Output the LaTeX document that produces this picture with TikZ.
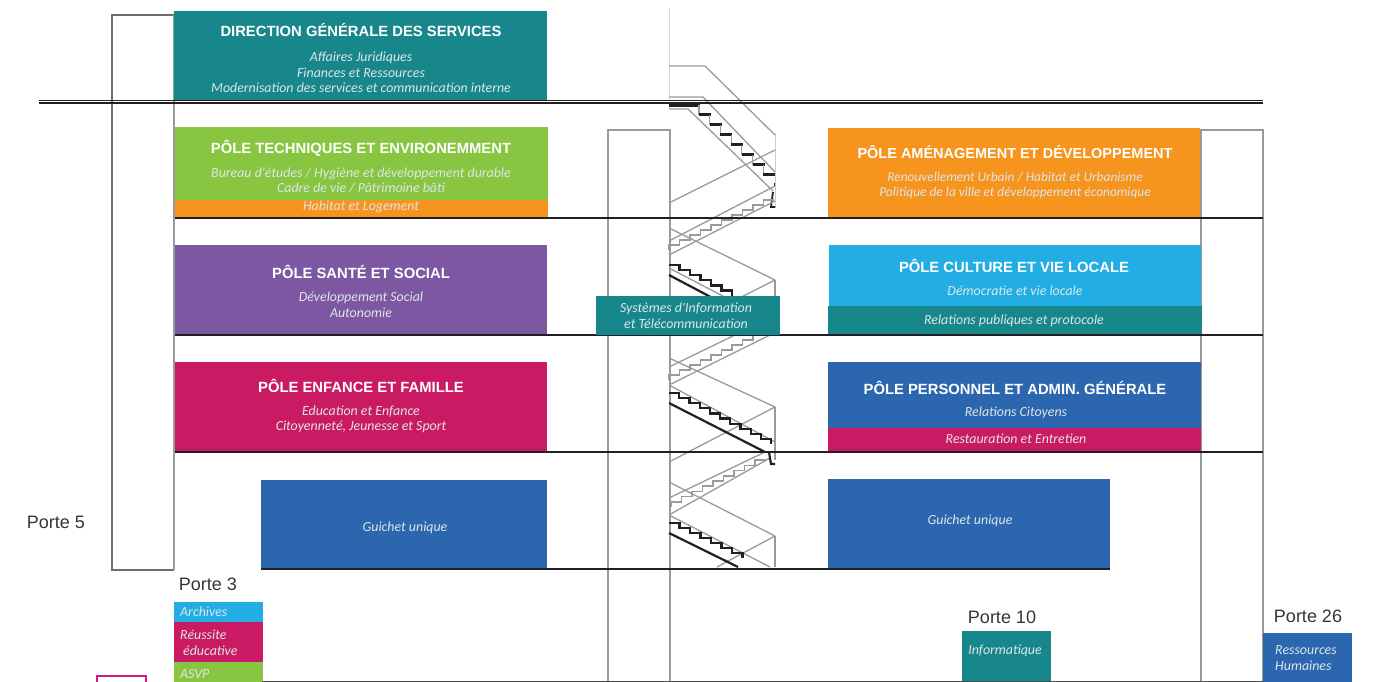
\documentclass[tikz,border=0pt]{standalone}
\usepackage{fontspec}
\setmainfont{Liberation Sans}
\newfontfamily\itfont{Carlito}
\definecolor{cteal}{HTML}{17878C}
\definecolor{cgreen}{HTML}{88C540}
\definecolor{corange}{HTML}{F7941E}
\definecolor{cpurple}{HTML}{7E57A2}
\definecolor{cpink}{HTML}{C91A63}
\definecolor{cblue}{HTML}{2B66AE}
\definecolor{ccyan}{HTML}{22AEE5}
\definecolor{cdark}{HTML}{231F20}
\definecolor{cgrey}{HTML}{9A9A9A}
\definecolor{csoft}{HTML}{DDE6E8}
\tikzset{
 x=1pt,y=-1pt,
 boxshape/.style={draw=none,inner sep=0pt,outer sep=0pt,anchor=north west},
 title/.style={text=white,font=\fontsize{14.8}{17}\selectfont\bfseries,inner sep=0pt},
 sub/.style={text=csoft,font=\fontsize{13.9}{15.5}\selectfont\itfont\itshape,inner sep=0pt,align=center},
 tag/.style={text=cdark!90,font=\fontsize{18}{20}\selectfont,inner sep=0pt},
 floorline/.style={draw=cdark,line width=2.9pt},
 door/.style={draw=cgrey,line width=1.8pt},
 doorfine/.style={draw=cdark!65,line width=1.2pt},
 stairg/.style={draw=cgrey,line width=1.3pt},
 stairb/.style={draw=cdark,line width=2.2pt},
 stepsg/.style={draw=cgrey,line width=1.7pt},
}
\newcommand{\bx}[6]{\node[boxshape,fill=#2,minimum width=#5-#3,minimum height=#6-#4] (#1) at (#3,#4) {};}
\newcommand{\teeth}[6]{\draw[#1] (#2,#3) \foreach \k in {1,...,#6} { -- ++(#4,0) -- ++(0,#5) };}
\newcommand{\upteeth}[6]{\draw[#1] (#2,#3) \foreach \k in {1,...,#6} { -- ++(0,-#5) -- ++(#4,0) };}
\begin{document}
\begin{tikzpicture}
\useasboundingbox (0,0) rectangle (1374,682);
\fill[white] (0,0) rectangle (1374,682);

% doors
\draw[doorfine] (174,570) -- (112,570) -- (112,15) -- (174,15);
\draw[door] (608,682) -- (608,130) -- (670,130) -- (670,682);
\draw[door] (1263,682) -- (1263,130) -- (1201,130) -- (1201,682);
\draw[draw=cgrey,line width=1.2pt] (174,15) -- (174,570);
\draw[draw=gray!30,line width=.7pt] (669.5,8) -- (669.5,100);

% staircase, top flight
\draw[stairg] (669,66) -- (705,66) -- (775,135);
\draw[stairg] (669,97) -- (703,97) -- (775,172);
\draw[stairg] (669,109) -- (688,109) -- (773,191);
\draw[draw=gray!40,line width=1pt] (775,133) -- (775,208);
\draw[draw=cdark,line width=3.4pt] (669,105) -- (700,105);
\foreach \i in {0,...,6}{
  \draw[draw=cgrey,line width=1.2pt] ({699+10.7*\i},{105+10*\i}) -- ({699+10.7*\i},{115+10*\i});
  \draw[draw=cdark,line width=3pt] ({699+10.7*\i},{115+10*\i}) -- ({711+10.7*\i},{115+10*\i});
}
\draw[draw=cdark,line width=3pt] (774,185) -- (775,185);
\draw[stairb,line width=1.8pt] (773,192) -- (771,207) -- (775,207);
% up flight 1
\draw[stairg] (669,203) -- (775,150);
\draw[stairg] (669,241) -- (775,186);
\draw[stairg] (669,255) -- (775,201);
\upteeth{stepsg}{669}{250}{10.5}{5}{10}
% down flight 1
\draw[stairg] (669,228) -- (775,280);
\draw[stairg] (669,268) -- (765,318);
\draw[stairg] (775,280) -- (775,334);
\draw[stairg] (775,280) -- (690,323);
\teeth{stairb}{669}{265}{10.5}{5.1}{6}
\draw[stairb] (669,275) -- (722,303);
% up flight 2
\draw[stairg] (669,367) -- (735,335);
\draw[stairg] (669,385) -- (770,335);
\upteeth{stepsg}{669}{380}{10.5}{5}{9}
% down flight 2
\draw[stairg] (669,358) -- (775,407);
\draw[stairg] (669,385) -- (775,442);
\draw[stairg] (775,407) -- (775,460);
\draw[stairg] (775,407) -- (669,462);
\teeth{stairb}{669}{393}{10.2}{5.1}{10}
\draw[stairb] (669,403) -- (765,452);
% up flight 3
\draw[stairg] (669,498) -- (763,453);
\draw[stairg] (669,515) -- (770,458);
\upteeth{stepsg}{671}{507}{10.5}{5.2}{9}
\draw[stairb] (769,452) -- (771,464) -- (775,464);
% down flight 3
\draw[stairg] (669,482) -- (775,536);
\draw[stairg] (669,515) -- (770,567);
\draw[stairg] (775,536) -- (775,567);
\draw[stairg] (775,536) -- (717,567);
\teeth{stairb}{669}{523}{10.5}{5}{7}
\draw[stairb] (669,533) -- (738,567);

% boxes
\bx{dgs}{cteal}{174}{11}{547}{101}
\bx{tech}{cgreen}{175}{127}{548}{200}
\bx{hab}{corange}{175}{200}{548}{218}
\bx{sante}{cpurple}{175}{245}{547}{335}
\bx{enf}{cpink}{175}{362}{547}{452}
\bx{gu}{cblue}{261}{480}{547}{569}
\bx{amen}{corange}{828}{128}{1200}{218}
\bx{cult}{ccyan}{829}{245}{1201}{306}
\bx{rel}{cteal}{828}{306}{1202}{334}
\bx{pers}{cblue}{828}{362}{1201}{428}
\bx{rest}{cpink}{828}{428}{1201}{452}
\bx{gd}{cblue}{828}{479}{1110}{569}
\bx{arch}{ccyan}{174}{602}{263}{622}
\bx{reu}{cpink}{174}{622}{263}{662}
\bx{asvp}{cgreen}{174}{662}{263}{682}
\bx{info}{cteal}{962}{631}{1051}{682}
\bx{rh}{cblue}{1263}{633}{1352}{682}

% floors
\draw[floorline,line width=1.7pt] (39,100.6) -- (1263,100.6);
\draw[floorline,line width=1.7pt] (39,103.2) -- (1263,103.2);
\draw[floorline] (175,218) -- (1263,218);
\draw[floorline] (175,335) -- (1263,335);
\draw[floorline] (175,452) -- (1263,452);
\draw[floorline] (261,569) -- (1110,569);
\draw[draw=cdark!80,line width=1.3pt] (262,681.5) -- (1263,681.5);
\draw[draw=magenta!90!black,line width=2.8pt] (97,682) -- (97,676) -- (146,676) -- (146,682);

\bx{si}{cteal}{596}{296}{780}{335}

% texts
\node[title] (t1) at (361,30) {DIRECTION GÉNÉRALE DES SERVICES};
\node[sub] (s1) at (361,72.5) {Affaires Juridiques\\Finances et Ressources\\Modernisation des services et communication interne};
\node[title] (t2) at (361,148.5) {PÔLE TECHNIQUES ET ENVIRONEMMENT};
\node[sub] (s2) at (361,180.5) {Bureau d'études / Hygiène et développement durable\\Cadre de vie / Pâtrimoine bâti};
\node[sub] (s2b) at (361,207) {Habitat et Logement};
\node[title] (t3) at (361,272) {PÔLE SANTÉ ET SOCIAL};
\node[sub] (s3) at (361,304.5) {Développement Social\\Autonomie};
\node[title] (t4) at (361,386) {PÔLE ENFANCE ET FAMILLE};
\node[sub] (s4) at (361,419.5) {Education et Enfance\\Citoyenneté, Jeunesse et Sport};
\node[sub] (s5) at (405,528) {Guichet unique};
\node[title,font=\fontsize{14.5}{17}\selectfont\bfseries] (t6) at (1015,152) {PÔLE AMÉNAGEMENT ET DÉVELOPPEMENT};
\node[sub,font=\fontsize{13.4}{15.5}\selectfont\itfont\itshape] (s6) at (1015,185.5) {Renouvellement Urbain /  Habitat et Urbanisme\\Politique de la ville et développement économique};
\node[title] (t7) at (1014,266) {PÔLE CULTURE ET VIE LOCALE};
\node[sub] (s7) at (1015,290.5) {Démocratie et vie locale};
\node[sub] (s7b) at (1014,320.5) {Relations publiques et protocole};
\node[title] (t8) at (1015,388) {PÔLE PERSONNEL ET ADMIN. GÉNÉRALE};
\node[sub] (s8) at (1016,412.5) {Relations Citoyens};
\node[sub] (s8b) at (1016,438.5) {Restauration et Entretien};
\node[sub] (s9) at (970,520.5) {Guichet unique};
\node[sub] (s10) at (686,315.5) {Systèmes d'Information\\et Télécommunication};
\node[tag] (p5) at (56,522) {Porte 5};
\node[tag] (p3) at (208,584) {Porte 3};
\node[tag] (p10) at (1002,617) {Porte 10};
\node[tag] (p26) at (1308,616) {Porte 26};
\node[sub,anchor=west] (a1) at (180,612) {Archives};
\node[sub,anchor=west,align=left] (a2) at (180,643) {Réussite\\\hspace*{3pt}éducative};
\node[sub,anchor=west] (a3) at (180,674) {ASVP};
\node[sub] (a4) at (1005,651) {Informatique};
\node[sub,align=left,anchor=west] (a5) at (1275,658) {Ressources\\Humaines};
\end{tikzpicture}
\end{document}
